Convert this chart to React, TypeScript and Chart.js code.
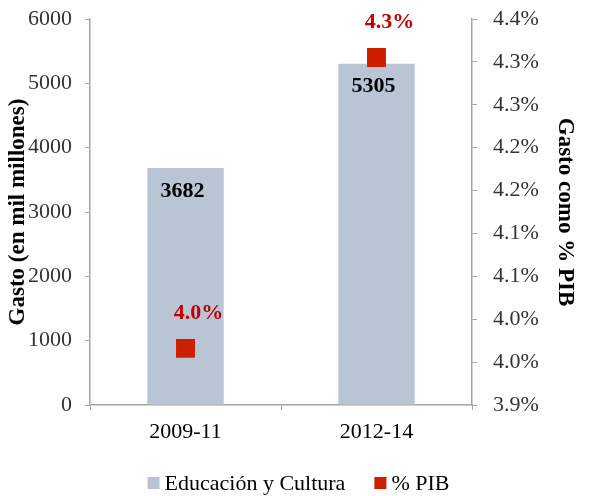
import React, { useEffect, useRef } from 'react';
import { Chart, registerables } from 'chart.js';

Chart.register(...registerables);

const categories = ['2009-11', '2012-14'];
const gastoValues = [3682, 5305];
const pibValues = [3.966, 4.305];
const pibTickLabels = ['3.9%', '4.0%', '4.0%', '4.1%', '4.1%', '4.2%', '4.2%', '4.3%', '4.3%', '4.4%'];
const seriesNames = ['Educación y Cultura', '% PIB'];
const leftTitle = 'Gasto (en mil millones)';
const rightTitle = 'Gasto como % PIB';

const FONT = "'Liberation Serif', 'Times New Roman', serif";
const BAR_COLOR = '#b9c5d4';
const PT_COLOR = '#cc1f00';
const LABEL_RED = '#c00000';
const AXIS_COLOR = '#a6a6a6';
const TICK_COLOR = '#333333';

const customPlugin = {
  id: 'customLabels',
  afterDatasetsDraw(chart: any) {
    const ctx = chart.ctx;
    ctx.save();
    ctx.textAlign = 'center';
    ctx.textBaseline = 'middle';
    ctx.font = `bold 22px ${FONT}`;
    ctx.fillStyle = '#000000';
    chart.getDatasetMeta(0).data.forEach((el: any, i: number) => {
      ctx.fillText(String(gastoValues[i]), el.x - 3, el.y + 23);
    });
    ctx.fillStyle = LABEL_RED;
    chart.getDatasetMeta(1).data.forEach((el: any, i: number) => {
      ctx.fillText(pibValues[i].toFixed(1) + '%', el.x + 13, el.y - 35);
    });
    ctx.restore();
  },
  afterDraw(chart: any) {
    const ctx = chart.ctx;
    ctx.save();
    ctx.font = `22px ${FONT}`;
    ctx.textBaseline = 'middle';
    ctx.textAlign = 'left';
    const box = 12;
    const gap = 5;
    const itemGap = 29;
    const colors = [BAR_COLOR, PT_COLOR];
    const widths = seriesNames.map((s) => box + gap + ctx.measureText(s).width);
    const total = widths.reduce((a, b) => a + b, 0) + itemGap * (widths.length - 1);
    let x = chart.width / 2 - total / 2 + 4;
    const y = 483;
    seriesNames.forEach((s, i) => {
      ctx.fillStyle = colors[i];
      ctx.fillRect(x, y - box / 2, box, box);
      ctx.fillStyle = '#000000';
      ctx.fillText(s, x + box + gap, y + 1);
      x += widths[i] + itemGap;
    });
    ctx.restore();
  },
};

export default function App() {
  const canvasRef = useRef<HTMLCanvasElement>(null);

  useEffect(() => {
    if (!canvasRef.current) return;
    const chart = new Chart(canvasRef.current, {
      type: 'bar',
      data: {
        labels: categories,
        datasets: [
          {
            type: 'bar',
            label: seriesNames[0],
            data: gastoValues,
            backgroundColor: BAR_COLOR,
            borderWidth: 0,
            barPercentage: 0.4,
            categoryPercentage: 1,
            yAxisID: 'y',
            order: 2,
          } as any,
          {
            type: 'line',
            label: seriesNames[1],
            data: pibValues,
            showLine: false,
            pointStyle: 'rect',
            pointRadius: 13.4,
            pointHoverRadius: 13.4,
            pointBackgroundColor: PT_COLOR,
            pointBorderWidth: 0,
            borderColor: PT_COLOR,
            backgroundColor: PT_COLOR,
            yAxisID: 'y1',
            order: 1,
          } as any,
        ],
      },
      options: {
        animation: false,
        responsive: true,
        maintainAspectRatio: false,
        layout: { padding: { top: 19, left: 0, right: 0, bottom: 46 } },
        plugins: {
          legend: { display: false },
          tooltip: { enabled: false },
        },
        scales: {
          x: {
            grid: { display: true, drawOnChartArea: false, offset: true, tickLength: 5, color: AXIS_COLOR },
            border: { display: true, color: AXIS_COLOR, width: 1.5 },
            ticks: { color: '#000000', font: { family: FONT, size: 22 }, padding: 9 },
            afterFit: (scale: any) => { scale.height = 45; },
          },
          y: {
            position: 'left',
            min: 0,
            max: 6000,
            ticks: {
              stepSize: 1000,
              color: TICK_COLOR,
              font: { family: FONT, size: 22 },
              padding: 13,
              callback: (v: any) => String(v),
            },
            grid: { display: true, drawOnChartArea: false, tickLength: 5, color: AXIS_COLOR },
            border: { display: true, color: AXIS_COLOR, width: 1.5 },
            title: {
              display: true,
              text: leftTitle,
              color: '#000000',
              font: { family: FONT, size: 23, weight: 'bold' },
              padding: { top: 4, bottom: 0 },
            },
            afterFit: (scale: any) => {
              scale.width = 90;
              scale.paddingTop = 0;
              scale.paddingBottom = 0;
            },
          },
          y1: {
            position: 'right',
            min: 3.9,
            max: 4.35,
            ticks: {
              stepSize: 0.05,
              color: TICK_COLOR,
              font: { family: FONT, size: 22 },
              padding: 16,
              callback: (_v: any, i: number) => pibTickLabels[i],
            },
            grid: { display: true, drawOnChartArea: false, tickLength: 5, color: AXIS_COLOR },
            border: { display: true, color: AXIS_COLOR, width: 1.5 },
            title: {
              display: true,
              text: rightTitle,
              color: '#000000',
              font: { family: FONT, size: 23, weight: 'bold' },
              padding: { top: 10, bottom: 0 },
            },
            afterFit: (scale: any) => {
              scale.width = 117;
              scale.paddingTop = 0;
              scale.paddingBottom = 0;
            },
          },
        },
      } as any,
      plugins: [customPlugin],
    });
    return () => chart.destroy();
  }, []);

  return (
    <div style={{ position: 'absolute', left: 0, top: 0, width: 589, height: 496, background: '#ffffff' }}>
      <canvas ref={canvasRef} />
    </div>
  );
}
